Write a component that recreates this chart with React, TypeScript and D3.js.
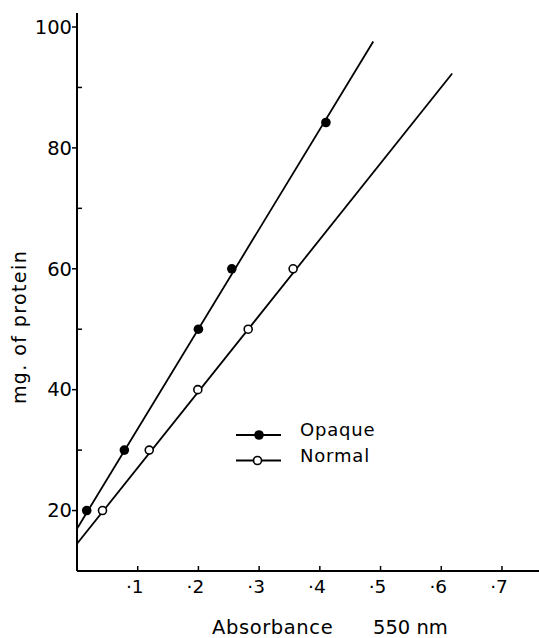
import React from 'react';
import * as d3 from 'd3';

// Values
const opaqueX = [0.016, 0.078, 0.2, 0.255, 0.41];
const opaqueY = [20, 30, 50, 60, 84.2];
const normalX = [0.042, 0.119, 0.199, 0.282, 0.356];
const normalY = [20, 30, 40, 50, 60];

// fitted lines (end points)
const opaqueLineX = [0, 0.488];
const opaqueLineY = [17, 97.6];
const normalLineX = [0, 0.618];
const normalLineY = [14.5, 92.3];

const xTicks = [0.1, 0.2, 0.3, 0.4, 0.5, 0.6, 0.7];
const yMajorTicks = [20, 40, 60, 80, 100];
const yMinorTicks = [30, 50, 70, 90];

const legendItems = ['Opaque', 'Normal'];

const W = 539;
const H = 638;
const FONT = '"DejaVu Sans", sans-serif';

export default function App() {
  const x = d3.scaleLinear().domain([0, 0.761]).range([77, 539]);
  const y = d3.scaleLinear().domain([10, 100]).range([571, 27]);

  const line = d3.line<[number, number]>()
    .x((d) => x(d[0]))
    .y((d) => y(d[1]));

  const opaqueLine = line(opaqueLineX.map((v, i) => [v, opaqueLineY[i]]));
  const normalLine = line(normalLineX.map((v, i) => [v, normalLineY[i]]));

  const axisX = x(0);
  const axisY = y(10);

  return (
    <svg width={W} height={H} style={{ position: 'absolute', left: 0, top: 0, background: '#fff' }}
      fontFamily={FONT}>
      {/* axes */}
      <line x1={axisX} x2={axisX} y1={y(102.3)} y2={axisY} stroke="#000" strokeWidth={2} />
      <line x1={axisX} x2={W} y1={axisY} y2={axisY} stroke="#000" strokeWidth={2} />

      {/* y ticks */}
      {yMajorTicks.map((t) => (
        <g key={t}>
          <line x1={axisX - 5} x2={axisX + 1} y1={y(t)} y2={y(t)} stroke="#000" strokeWidth={1.5} />
          <text x={axisX - 5} y={y(t)} dy="0.35em" textAnchor="end" fontSize={19.5}>{t}</text>
        </g>
      ))}
      {yMinorTicks.map((t) => (
        <line key={t} x1={axisX} x2={axisX + 5} y1={y(t)} y2={y(t)} stroke="#000" strokeWidth={1.5} />
      ))}

      {/* x ticks */}
      {xTicks.map((t) => (
        <g key={t}>
          <line x1={x(t)} x2={x(t)} y1={axisY} y2={axisY - 5} stroke="#000" strokeWidth={1.5} />
          <text x={x(t) - 3} y={axisY + 16} dy="0.35em" textAnchor="middle" fontSize={18.5}>
            {'·' + Math.round(t * 10)}
          </text>
        </g>
      ))}

      {/* axis titles */}
      <text x={212} y={634} fontSize={19.5} letterSpacing={0.6}>Absorbance</text>
      <text x={373} y={634} fontSize={19.5}>550 nm</text>
      <text transform={`translate(26, 327) rotate(-90)`} textAnchor="middle" fontSize={19} letterSpacing={1.4}>
        mg. of protein
      </text>

      {/* lines */}
      <path d={opaqueLine || ''} fill="none" stroke="#000" strokeWidth={1.8} />
      <path d={normalLine || ''} fill="none" stroke="#000" strokeWidth={1.8} />

      {/* points */}
      {opaqueX.map((v, i) => (
        <circle key={'o' + i} cx={x(v)} cy={y(opaqueY[i])} r={4.8} fill="#000" />
      ))}
      {normalX.map((v, i) => (
        <circle key={'n' + i} cx={x(v)} cy={y(normalY[i])} r={4} fill="#fff" stroke="#000" strokeWidth={1.6} />
      ))}

      {/* legend */}
      {legendItems.map((name, i) => {
        const ly = 435 + i * 25.5;
        return (
          <g key={name}>
            <line x1={236} x2={281} y1={ly} y2={ly} stroke="#000" strokeWidth={1.8} />
            {i === 0
              ? <circle cx={259} cy={ly} r={4.8} fill="#000" />
              : <circle cx={257.5} cy={ly} r={4} fill="#fff" stroke="#000" strokeWidth={1.6} />}
            <text x={300} y={ly - 5} dy="0.35em" fontSize={18} letterSpacing={0.8}>{name}</text>
          </g>
        );
      })}
    </svg>
  );
}
